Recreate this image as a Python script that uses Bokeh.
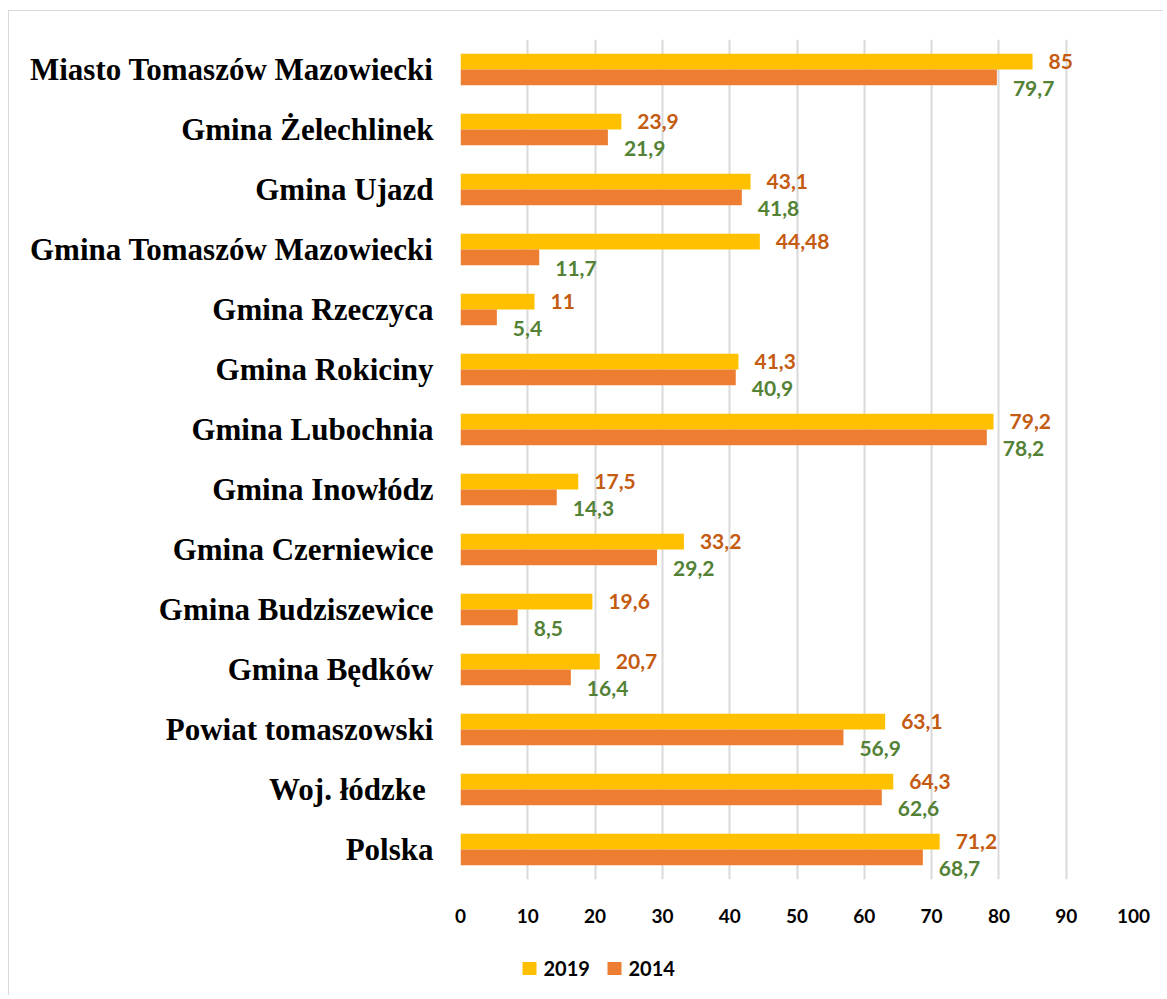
from bokeh.plotting import figure
from bokeh.layouts import column
from bokeh.models import ColumnDataSource, FactorRange, Range1d, FixedTicker
from bokeh.transform import dodge
from bokeh.core.properties import value
from bokeh.embed import file_html
from bokeh.resources import INLINE

categories = [
    "Miasto Tomaszów Mazowiecki",
    "Gmina Żelechlinek",
    "Gmina Ujazd",
    "Gmina Tomaszów Mazowiecki",
    "Gmina Rzeczyca",
    "Gmina Rokiciny",
    "Gmina Lubochnia",
    "Gmina Inowłódz",
    "Gmina Czerniewice",
    "Gmina Budziszewice",
    "Gmina Będków",
    "Powiat tomaszowski",
    "Woj. łódzke ",
    "Polska",
]
values_2019 = [85, 23.9, 43.1, 44.48, 11, 41.3, 79.2, 17.5, 33.2, 19.6, 20.7, 63.1, 64.3, 71.2]
values_2014 = [79.7, 21.9, 41.8, 11.7, 5.4, 40.9, 78.2, 14.3, 29.2, 8.5, 16.4, 56.9, 62.6, 68.7]
series_names = ["2019", "2014"]
series_colors = ["#FFC000", "#ED7D31"]
label_colors = ["#C55A11", "#538135"]
x_ticks = [0, 10, 20, 30, 40, 50, 60, 70, 80, 90, 100]


def fmt(v):
    return f"{v:g}".replace(".", ",")


src = ColumnDataSource(dict(
    cat=categories,
    v19=values_2019,
    v14=values_2014,
    l19=[fmt(v) for v in values_2019],
    l14=[fmt(v) for v in values_2014],
))

W = 1154
p = figure(
    width=W, height=930,
    y_range=FactorRange(*reversed(categories)),
    x_range=Range1d(0, 100),
    output_backend="svg", toolbar_location=None,
    min_border_left=451, min_border_right=30, min_border_top=28, min_border_bottom=62,
)

p.hbar(y=dodge("cat", 0.132, range=p.y_range), left=0, right="v19", height=0.262,
       color=series_colors[0], line_color=None, source=src)
p.hbar(y=dodge("cat", -0.132, range=p.y_range), left=0, right="v14", height=0.262,
       color=series_colors[1], line_color=None, source=src)

common = dict(text_baseline="middle", text_font=value("Lato"), text_font_style="bold",
              text_font_size="21px", source=src)
p.text(x="v19", y=dodge("cat", 0.132, range=p.y_range), text="l19", x_offset=16, y_offset=0,
       text_color=label_colors[0], **common)
p.text(x="v14", y=dodge("cat", -0.132, range=p.y_range), text="l14", x_offset=16, y_offset=11,
       text_color=label_colors[1], **common)

p.xaxis.ticker = FixedTicker(ticks=x_ticks)
p.xgrid.ticker = FixedTicker(ticks=x_ticks)
p.xgrid.grid_line_color = "#d9d9d9"
p.xgrid.grid_line_width = 2
p.ygrid.grid_line_color = None
p.outline_line_color = None

for ax in (p.xaxis, p.yaxis):
    ax.axis_line_color = None
    ax.major_tick_line_color = None
    ax.minor_tick_line_color = None

p.xaxis.major_label_text_font = "Lato"
p.xaxis.major_label_text_font_style = "bold"
p.xaxis.major_label_text_font_size = "19px"
p.xaxis.major_label_text_color = "#000000"
p.xaxis.major_label_standoff = 23

p.yaxis.major_label_text_font = "Liberation Serif"
p.yaxis.major_label_text_font_style = "bold"
p.yaxis.major_label_text_font_size = "31px"
p.yaxis.major_label_text_color = "#000000"
p.yaxis.major_label_standoff = 21

# legend strip below the chart (its frame is aligned with the chart's frame;
# x_range expressed in page pixels of that frame)
LH = 54
lf = figure(
    width=W, height=LH, x_range=Range1d(461, 1134), y_range=Range1d(0, LH),
    output_backend="svg", toolbar_location=None,
    min_border_left=0, min_border_right=0, min_border_top=0, min_border_bottom=0,
)
lf.axis.visible = False
lf.grid.visible = False
lf.outline_line_color = None

leg_x0, leg_step, leg_y = 530, 85, LH - 27
leg_src = ColumnDataSource(dict(
    x=[leg_x0 + i * leg_step for i in range(len(series_names))],
    y=[leg_y] * len(series_names),
    name=series_names,
    color=series_colors,
))
lf.rect(x="x", y="y", width=14, height=13, width_units="screen", height_units="screen",
        fill_color="color", line_color=None, source=leg_src)
lf.text(x="x", y="y", text="name", x_offset=14, text_baseline="middle",
        text_font=value("Lato"), text_font_style="bold", text_font_size="20px",
        text_color="#000000", source=leg_src)

layout = column(p, lf, spacing=0)
layout.margin = (10, 0, 0, 8)
layout.styles = {"border-top": "1px solid #d9d9d9", "border-left": "1px solid #d9d9d9"}

open("out.html", "w").write(file_html(layout, INLINE))
